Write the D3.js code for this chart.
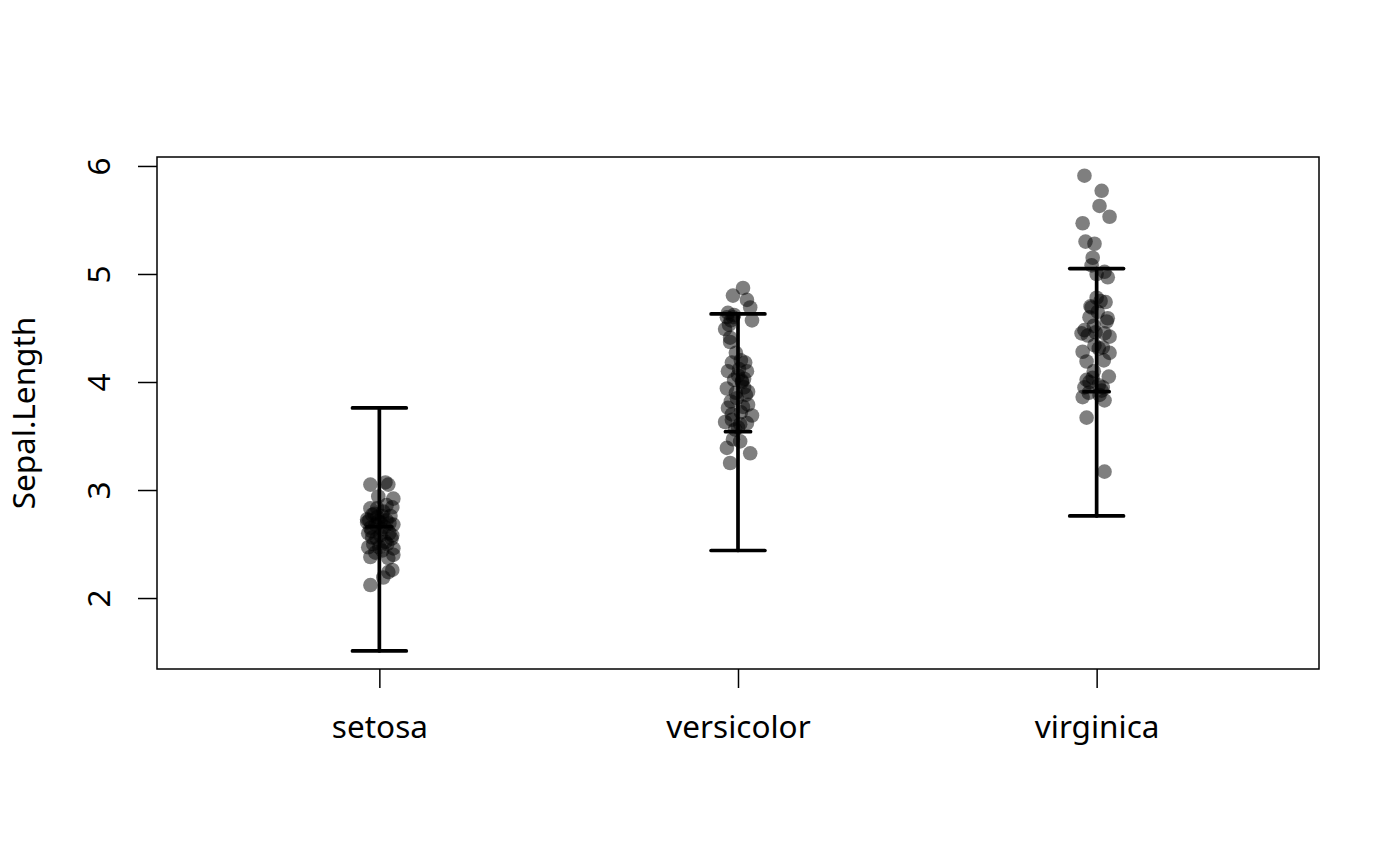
<!DOCTYPE html>
<html lang="en">
<head>
<meta charset="UTF-8">
<title>Sepal.Length by species</title>
<style>
  body { margin: 0; background: #fff; }
  text { font-family: "Noto Sans", "DejaVu Sans", sans-serif; }
</style>
</head>
<body>
<div id="chart"></div>
<script src="https://d3js.org/d3.v7.min.js"></script>
<script>
const w = 1400;
const h = 866;

const species = ['setosa', 'versicolor', 'virginica'];
const yTicks = [2, 3, 4, 5, 6];

// error bars: centre and whiskers
const barMid = [2.66, 3.54, 3.91];
const barLow = [1.51, 2.44, 2.76];
const barHigh = [3.76, 4.63, 5.05];

// jittered points: value and horizontal jitter (in group units)
const setosaY = [3.05, 3.07, 3.05, 2.94, 2.92, 2.84, 2.83, 2.73, 2.75, 2.70,
                 2.68, 2.65, 2.58, 2.56, 2.52, 2.47, 2.46, 2.44, 2.38, 2.40,
                 2.37, 2.24, 2.26, 2.19, 2.12, 2.78, 2.80, 2.70, 2.68, 2.72,
                 2.76, 2.62, 2.64, 2.60, 2.55, 2.50, 2.50, 2.47, 2.72, 2.66,
                 2.83, 2.69, 2.77, 2.55, 2.58, 2.42, 2.86, 2.71, 2.76, 2.60];
const setosaJit = [-0.025, 0.017, 0.025, -0.003, 0.039, 0.036, -0.025, -0.034, -0.006, 0.003,
                   0.039, -0.025, 0.036, -0.020, 0.017, -0.031, 0.039, 0.008, -0.025, 0.039,
                   0.025, 0.025, 0.036, 0.011, -0.025, -0.014, 0.011, -0.034, -0.011, 0.020,
                   0.031, -0.022, 0.006, 0.028, -0.008, 0.022, -0.017, 0.000, -0.028, 0.014,
                   -0.006, 0.028, -0.020, 0.034, 0.003, -0.011, 0.020, -0.003, 0.008, -0.031];

const versicolorY = [4.87, 4.80, 4.76, 4.69, 4.57, 4.64, 4.60, 4.57, 4.60, 4.49,
                     4.41, 4.37, 4.18, 4.18, 4.10, 4.10, 3.94, 4.00, 3.91, 3.85,
                     3.76, 3.69, 3.77, 3.63, 3.65, 3.61, 3.56, 3.39, 3.34, 3.25,
                     4.20, 4.03, 4.02, 4.12, 3.88, 3.82, 3.72, 3.90, 3.95, 3.70,
                     3.79, 3.58, 4.53, 4.62, 4.01, 4.27, 3.62, 3.47, 3.45, 4.06];
const versicolorJit = [0.014, -0.014, 0.025, 0.034, 0.039, -0.028, -0.031, -0.020, -0.014, -0.036,
                       -0.022, -0.022, -0.017, 0.020, -0.028, 0.025, -0.031, 0.011, 0.028, -0.003,
                       -0.028, 0.039, 0.014, -0.036, -0.017, 0.006, -0.008, -0.031, 0.034, -0.022,
                       0.008, 0.017, -0.011, 0.003, 0.022, -0.020, 0.008, -0.006, 0.017, -0.017,
                       0.028, 0.000, -0.025, -0.011, 0.011, -0.006, 0.025, -0.014, 0.006, 0.000];

const virginicaY = [5.91, 5.77, 5.63, 5.53, 5.47, 5.30, 5.28, 5.15, 5.08, 5.02,
                    5.00, 4.97, 4.78, 4.69, 4.59, 4.56, 4.48, 4.45, 4.43, 4.45,
                    4.42, 4.34, 4.28, 4.27, 4.19, 4.02, 4.04, 3.95, 3.95, 3.86,
                    3.83, 3.67, 3.17, 4.75, 4.60, 4.31, 4.10, 3.92, 4.00, 4.65,
                    4.74, 4.46, 4.32, 3.90, 3.97, 4.05, 4.70, 4.20, 4.52, 3.88];
const virginicaJit = [-0.034, 0.014, 0.008, 0.036, -0.039, -0.031, -0.006, -0.011, -0.014, 0.022,
                      0.000, 0.031, 0.000, -0.014, 0.031, 0.028, -0.034, -0.042, -0.025, 0.022,
                      0.036, -0.006, -0.039, 0.036, -0.028, -0.028, -0.011, -0.034, 0.017, -0.039,
                      0.022, -0.028, 0.022, 0.011, -0.020, 0.006, -0.008, 0.014, -0.020, 0.003,
                      0.025, -0.003, 0.017, -0.022, 0.006, 0.034, -0.017, 0.020, -0.008, 0.008];

const groupY = [setosaY, versicolorY, virginicaY];
const groupJit = [setosaJit, versicolorJit, virginicaJit];

const plot = { left: 157, right: 1319, top: 157, bottom: 669 };
const fontSize = 31.5;

const xScale = d3.scaleLinear()
    .domain([0.38, 3.62])
    .range([plot.left, plot.right]);
const yScale = d3.scaleLinear()
    .domain([1.343, 6.083])
    .range([plot.bottom, plot.top]);

const points = [];
groupY.forEach((vals, g) => {
    vals.forEach((v, i) => points.push({ x: g + 1 + groupJit[g][i], y: v }));
});

const svg = d3.select('#chart')
    .append('svg')
    .attr('width', w)
    .attr('height', h);

svg.append('rect')
    .attr('width', w)
    .attr('height', h)
    .attr('fill', '#fff');

// points
svg.append('g')
    .selectAll('circle')
    .data(points)
    .enter()
    .append('circle')
    .attr('cx', d => xScale(d.x))
    .attr('cy', d => yScale(d.y))
    .attr('r', 7.3)
    .attr('fill', 'rgba(0,0,0,0.5)');

// error bars
const bars = species.map((s, i) => ({ x: i + 1, mid: barMid[i], lo: barLow[i], hi: barHigh[i] }));
const capW = 0.075;
const midW = 0.035;
const barG = svg.append('g')
    .attr('stroke', '#000')
    .attr('stroke-width', 3.7)
    .attr('stroke-linecap', 'round');

barG.selectAll('.stem')
    .data(bars)
    .enter()
    .append('line')
    .attr('x1', d => xScale(d.x))
    .attr('x2', d => xScale(d.x))
    .attr('y1', d => yScale(d.lo))
    .attr('y2', d => yScale(d.hi));

[['hi', capW], ['lo', capW], ['mid', midW]].forEach(([key, half]) => {
    barG.selectAll('.cap-' + key)
        .data(bars)
        .enter()
        .append('line')
        .attr('x1', d => xScale(d.x - half))
        .attr('x2', d => xScale(d.x + half))
        .attr('y1', d => yScale(d[key]))
        .attr('y2', d => yScale(d[key]));
});

// axes
const xAxis = d3.axisBottom(xScale)
    .tickValues([1, 2, 3])
    .tickSize(19)
    .tickFormat((d, i) => species[i]);
const yAxis = d3.axisLeft(yScale)
    .tickValues(yTicks)
    .tickSize(19)
    .tickFormat(d3.format('d'));

const gx = svg.append('g')
    .attr('transform', `translate(0, ${plot.bottom})`)
    .call(xAxis);
gx.select('.domain').remove();
gx.selectAll('line').attr('stroke', '#000').attr('stroke-width', 1.5);
gx.selectAll('text')
    .attr('y', 69)
    .attr('dy', 0)
    .attr('fill', '#000')
    .style('font-size', fontSize + 'px')
    .style('font-family', '"Noto Sans", sans-serif');

const gy = svg.append('g')
    .attr('transform', `translate(${plot.left}, 0)`)
    .call(yAxis);
gy.select('.domain').remove();
gy.selectAll('line').attr('stroke', '#000').attr('stroke-width', 1.5);
gy.selectAll('text')
    .attr('x', 0)
    .attr('y', -47)
    .attr('dy', 0)
    .attr('transform', 'rotate(-90)')
    .attr('text-anchor', 'middle')
    .attr('fill', '#000')
    .style('font-size', fontSize + 'px')
    .style('font-family', '"Noto Sans", sans-serif');

// plot frame
svg.append('rect')
    .attr('x', plot.left)
    .attr('y', plot.top)
    .attr('width', plot.right - plot.left)
    .attr('height', plot.bottom - plot.top)
    .attr('fill', 'none')
    .attr('stroke', '#000')
    .attr('stroke-width', 1.5);

// y title
svg.append('text')
    .attr('transform', `translate(35, ${(plot.top + plot.bottom) / 2}) rotate(-90)`)
    .attr('text-anchor', 'middle')
    .style('font-size', fontSize + 'px')
    .text('Sepal.Length');
</script>
</body>
</html>
